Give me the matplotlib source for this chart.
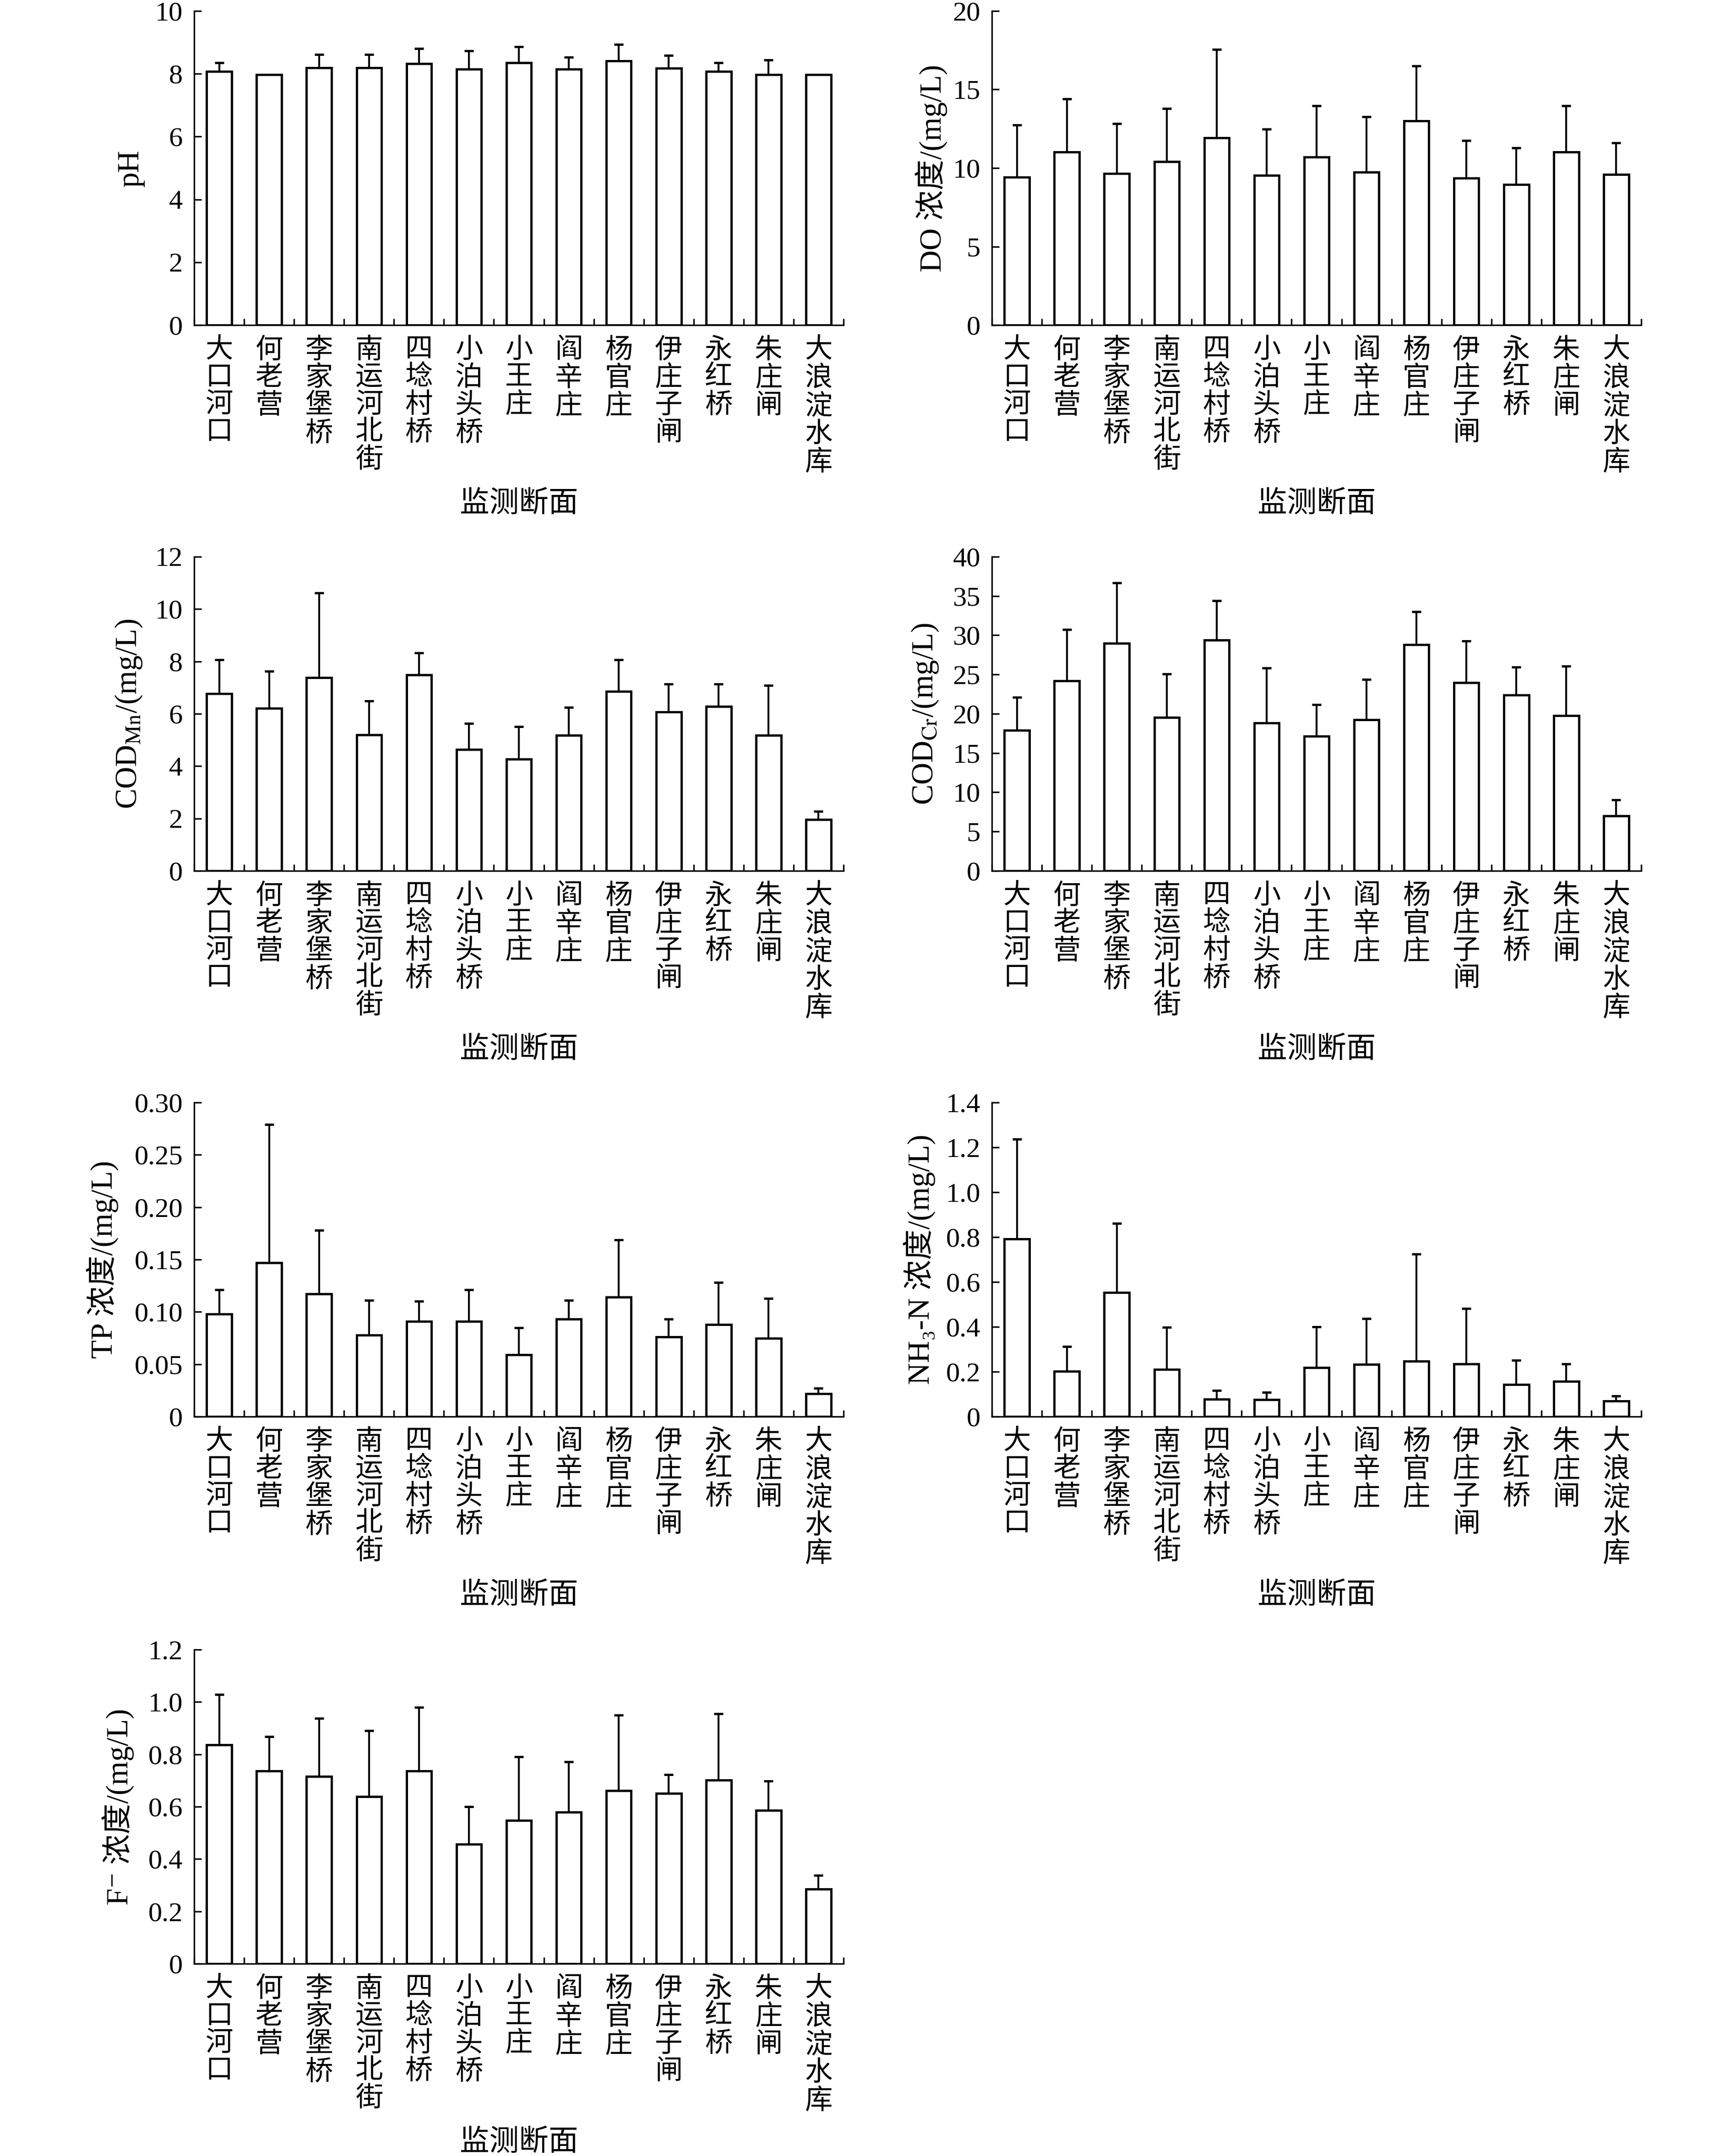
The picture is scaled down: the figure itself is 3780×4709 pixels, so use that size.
import numpy as np
import matplotlib
matplotlib.use('Agg')
import matplotlib.pyplot as plt
from matplotlib.ticker import FixedLocator, FuncFormatter

plt.rcParams['font.family'] = ['Liberation Serif', 'Noto Sans CJK SC', 'DejaVu Serif', 'DejaVu Sans']
plt.rcParams['mathtext.fontset'] = 'stix'
plt.rcParams['axes.unicode_minus'] = False

sites = ['大口河口', '何老营', '李家堡桥', '南运河北街', '四埝村桥', '小泊头桥', '小王庄',
         '阎辛庄', '杨官庄', '伊庄子闸', '永红桥', '朱庄闸', '大浪淀水库']

# means and (upper) standard deviations
ph_mean = [8.07, 7.98, 8.19, 8.19, 8.33, 8.15, 8.35, 8.15, 8.41, 8.18, 8.07, 7.98, 7.98]
ph_sd = [0.29, 0.0, 0.42, 0.42, 0.47, 0.58, 0.52, 0.38, 0.52, 0.40, 0.29, 0.46, 0.0]

do_mean = [9.43, 11.02, 9.65, 10.42, 11.91, 9.54, 10.70, 9.75, 13.01, 9.37, 8.94, 11.02, 9.58]
do_sd = [3.30, 3.38, 3.18, 3.38, 5.63, 2.95, 3.27, 3.51, 3.50, 2.37, 2.33, 2.95, 2.03]

codmn_mean = [6.77, 6.21, 7.39, 5.20, 7.48, 4.63, 4.26, 5.18, 6.85, 6.07, 6.28, 5.18, 1.96]
codmn_sd = [1.29, 1.41, 3.22, 1.29, 0.85, 1.00, 1.25, 1.06, 1.21, 1.06, 0.85, 1.90, 0.32]

codcr_mean = [17.92, 24.18, 28.96, 19.53, 29.36, 18.82, 17.12, 19.22, 28.78, 23.96, 22.39, 19.75, 7.02]
codcr_sd = [4.16, 6.57, 7.73, 5.54, 5.05, 7.01, 4.02, 5.18, 4.25, 5.31, 3.58, 6.31, 2.01]

tp_mean = [0.098, 0.147, 0.117, 0.078, 0.091, 0.091, 0.059, 0.093, 0.114, 0.076, 0.088, 0.075, 0.022]
tp_sd = [0.023, 0.132, 0.061, 0.033, 0.019, 0.030, 0.026, 0.018, 0.055, 0.017, 0.040, 0.038, 0.005]

nh3_mean = [0.791, 0.202, 0.554, 0.210, 0.078, 0.075, 0.218, 0.232, 0.247, 0.235, 0.142, 0.157, 0.070]
nh3_sd = [0.445, 0.111, 0.307, 0.188, 0.038, 0.033, 0.183, 0.205, 0.478, 0.246, 0.109, 0.078, 0.021]

f_mean = [0.836, 0.737, 0.715, 0.639, 0.737, 0.456, 0.547, 0.579, 0.662, 0.651, 0.701, 0.586, 0.286]
f_sd = [0.192, 0.131, 0.223, 0.251, 0.243, 0.144, 0.243, 0.192, 0.288, 0.072, 0.254, 0.112, 0.051]

# (mean, sd, ylabel, ymax, ystep, decimals, label x, column, row)
panels = [
    (ph_mean, ph_sd, 'pH', 10, 2, 0, -0.098, 0, 0),
    (do_mean, do_sd, 'DO 浓度/(mg/L)', 20, 5, 0, -0.093, 1, 0),
    (codmn_mean, codmn_sd, 'COD$_{\\mathrm{Mn}}$/(mg/L)', 12, 2, 0, -0.101, 0, 1),
    (codcr_mean, codcr_sd, 'COD$_{\\mathrm{Cr}}$/(mg/L)', 40, 5, 0, -0.103, 1, 1),
    (tp_mean, tp_sd, 'TP 浓度/(mg/L)', 0.30, 0.05, 2, -0.141, 0, 2),
    (nh3_mean, nh3_sd, 'NH\u2083-N 浓度/(mg/L)', 1.4, 0.2, 1, -0.111, 1, 2),
    (f_mean, f_sd, 'F\u207b 浓度/(mg/L)', 1.2, 0.2, 1, -0.117, 0, 3),
]

W, H = 3780, 4709
fig = plt.figure(figsize=(W / 300, H / 300), dpi=300)
lefts = [424, 2166]
bottoms = [710, 1902, 3094, 4289]
ax_w, ax_h = 1418, 686

x = np.arange(len(sites))
labels = ['\n'.join(s) for s in sites]

for mean, sd, ylab, ymax, ystep, dec, lx, col, row in panels:
    ax = fig.add_axes([lefts[col] / W, 1 - bottoms[row] / H, ax_w / W, ax_h / H])
    ax.bar(x, mean, width=0.5, color='white', edgecolor='black', linewidth=1.2,
           yerr=[np.zeros(len(sd)), sd],
           error_kw=dict(ecolor='black', elinewidth=1.0, capsize=2.4, capthick=1.2))
    ax.set_xlim(-0.5, 12.5)
    ax.set_ylim(0, ymax)
    ax.spines['top'].set_visible(False)
    ax.spines['right'].set_visible(False)
    ax.spines['left'].set_linewidth(0.8)
    ax.spines['bottom'].set_linewidth(0.8)

    yt = np.arange(0, ymax + ystep / 2, ystep)
    ax.set_yticks(yt)
    ax.yaxis.set_major_formatter(FuncFormatter(
        lambda v, p, d=dec: '0' if abs(v) < 1e-9 else f'{v:.{d}f}'))
    ax.tick_params(axis='y', direction='in', length=3.8, width=0.8, pad=6, labelsize=14.5)

    ax.set_xticks(x)
    ax.set_xticklabels(labels, fontsize=14.5, linespacing=1.12)
    ax.xaxis.set_minor_locator(FixedLocator(np.arange(-0.5, 13, 1)))
    ax.tick_params(axis='x', which='major', length=0, pad=7)
    ax.tick_params(axis='x', which='minor', direction='in', length=3.4, width=0.8)

    ax.text(lx, 0.5, ylab, transform=ax.transAxes, rotation=90, ha='center', va='center',
            fontsize=16)
    ax.text(0.5, -0.572, '监测断面', transform=ax.transAxes, ha='center', va='center',
            fontsize=15.5)

fig.savefig('out.png', dpi=300, facecolor='white')
